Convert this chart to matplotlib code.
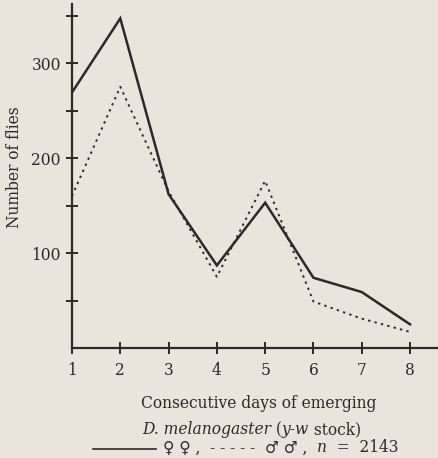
import matplotlib
matplotlib.use("Agg")
import matplotlib.pyplot as plt
from matplotlib.lines import Line2D

days = [1, 2, 3, 4, 5, 6, 7, 8]
females = [269, 347, 162, 87, 153, 74, 59, 25]
males = [160, 275, 165, 75, 176, 49, 31, 17]
ytick_vals = [50, 100, 150, 200, 250, 300, 350]
ytick_labels = ["", "100", "", "200", "", "300", ""]

BG = "#e9e5dd"
INK = "#2b2a28"
FS = 11.2
plt.rcParams['font.family'] = ['DejaVu Serif', 'DejaVu Sans']

fig = plt.figure(figsize=(4.39, 4.58), dpi=100, facecolor=BG)
ax = fig.add_axes([0.164, 0.240, 0.836, 0.751], facecolor=BG)

ax.plot(days, females, color=INK, lw=1.8, solid_joinstyle='miter')
ax.plot(days, males, color=INK, lw=1.4, linestyle=(0, (1.2, 2.2)))

ax.set_xlim(1, 8.6)
ax.set_ylim(0, 362)
for s in ['top', 'right']:
    ax.spines[s].set_visible(False)
for s in ['left', 'bottom']:
    ax.spines[s].set_linewidth(1.6)
    ax.spines[s].set_color(INK)

ax.set_xticks(days)
ax.set_xticklabels([str(d) for d in days], fontsize=FS, color=INK)
ax.set_yticks(ytick_vals)
ax.set_yticklabels(ytick_labels, fontsize=FS, color=INK)
ax.tick_params(axis='both', direction='inout', length=8, width=1.4, color=INK)
ax.tick_params(axis='x', pad=6)
ax.tick_params(axis='y', pad=4)

W = fig.bbox.width
H = fig.bbox.height

fig.text(0.034, 0.635, "Number of flies", rotation=90, ha='center', va='center',
         fontsize=FS, color=INK)
fig.text(259 / W, 1 - 403 / H, "Consecutive days of emerging", ha='center', va='center',
         fontsize=FS, color=INK)

fig.canvas.draw()
renderer = fig.canvas.get_renderer()


def place_pieces(pieces, x0, ypx):
    x = x0
    for s, st in pieces:
        t = fig.text(x / W, 1 - ypx / H, s, ha='left', va='center', fontsize=FS,
                     style=st, color=INK)
        x += t.get_window_extent(renderer).width
    return x


place_pieces([("D. melanogaster", 'italic'), (" (", 'normal'), ("y-w", 'italic'),
              (" stock)", 'normal')], 142, 430)

fig.add_artist(Line2D([93 / W, 156 / W], [1 - 449 / H, 1 - 449 / H], color=INK, lw=1.2))
place_pieces([("♀ ♀ ,  - - - - -  ♂ ♂ ,  ", 'normal'), ("n", 'italic'),
              ("  =  2143", 'normal')], 163, 448)

fig.savefig("out.png", dpi=100, facecolor=BG)
